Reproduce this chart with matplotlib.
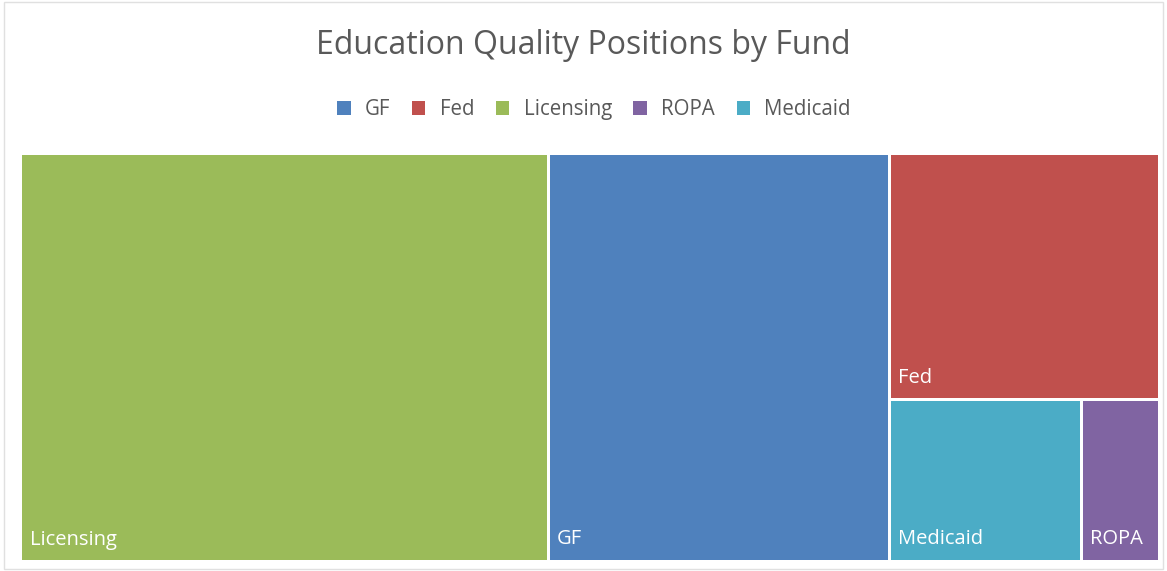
import matplotlib.pyplot as plt
from matplotlib.patches import Rectangle

# treemap data (positions by fund)
funds = ["Licensing", "GF", "Fed", "Medicaid", "ROPA"]
positions = [17, 11, 5.25, 2.45, 1]
colors = ["#9BBB59", "#4F81BD", "#C0504D", "#4BACC6", "#8064A2"]
legend_order = ["GF", "Fed", "Licensing", "ROPA", "Medicaid"]

plt.rcParams['font.family'] = ['Open Sans', 'DejaVu Sans']


def worst(row, side):
    s = sum(row)
    return max(max(side * side * r / (s * s), s * s / (side * side * r)) for r in row)


def squarify(areas, x, y, w, h):
    # simple squarified treemap, areas already scaled to w*h
    rects = []
    areas = list(areas)
    while areas:
        side = min(w, h)
        row = [areas[0]]
        i = 1
        while i < len(areas) and worst(row + [areas[i]], side) <= worst(row, side):
            row.append(areas[i])
            i += 1
        areas = areas[i:]
        s = sum(row)
        if w >= h:  # column along the height
            cw = s / h
            yy = y
            for a in row:
                rh = a / cw
                rects.append((x, yy, cw, rh))
                yy += rh
            x += cw
            w -= cw
        else:  # row along the width
            rh = s / w
            xx = x
            for a in row:
                rw = a / rh
                rects.append((xx, y, rw, rh))
                xx += rw
            y += rh
            h -= rh
    return rects


W, H = 1139.0, 408.0
total = sum(positions)
scaled = [p / total * W * H for p in positions]
rects = squarify(scaled, 0, 0, W, H)

fig = plt.figure(figsize=(11.67, 5.71), dpi=100)
ax = fig.add_axes([20.5 / 1167, 9.5 / 571, W / 1167, H / 571])
ax.set_xlim(0, W)
ax.set_ylim(H, 0)
ax.axis('off')

gap = 1.5
for name, (rx, ry, rw, rh), c in zip(funds, rects, colors):
    ax.add_patch(Rectangle((rx + gap, ry + gap), rw - 2 * gap, rh - 2 * gap,
                           facecolor=c, edgecolor='none'))
    ax.text(rx + 9, ry + rh - 12, name, color='white', fontsize=14.5,
            ha='left', va='bottom')

fig.text(0.5, 0.920, "Education Quality Positions by Fund", ha='center',
         va='center', fontsize=23, color='#595959')

handles = [Rectangle((0, 0), 1, 1, facecolor=colors[funds.index(n)]) for n in legend_order]
fig.legend(handles, legend_order, loc='center', bbox_to_anchor=(0.509, 0.808),
           ncol=5, frameon=False, fontsize=14.8, handlelength=0.65, handleheight=0.65,
           handletextpad=0.7, columnspacing=1.05, labelcolor='#595959')

fig.patches.append(Rectangle((0.003, 0.003), 0.994, 0.994, transform=fig.transFigure,
                             fill=False, edgecolor='#E0E0E0', lw=1))

fig.savefig("out.png", dpi=100)
